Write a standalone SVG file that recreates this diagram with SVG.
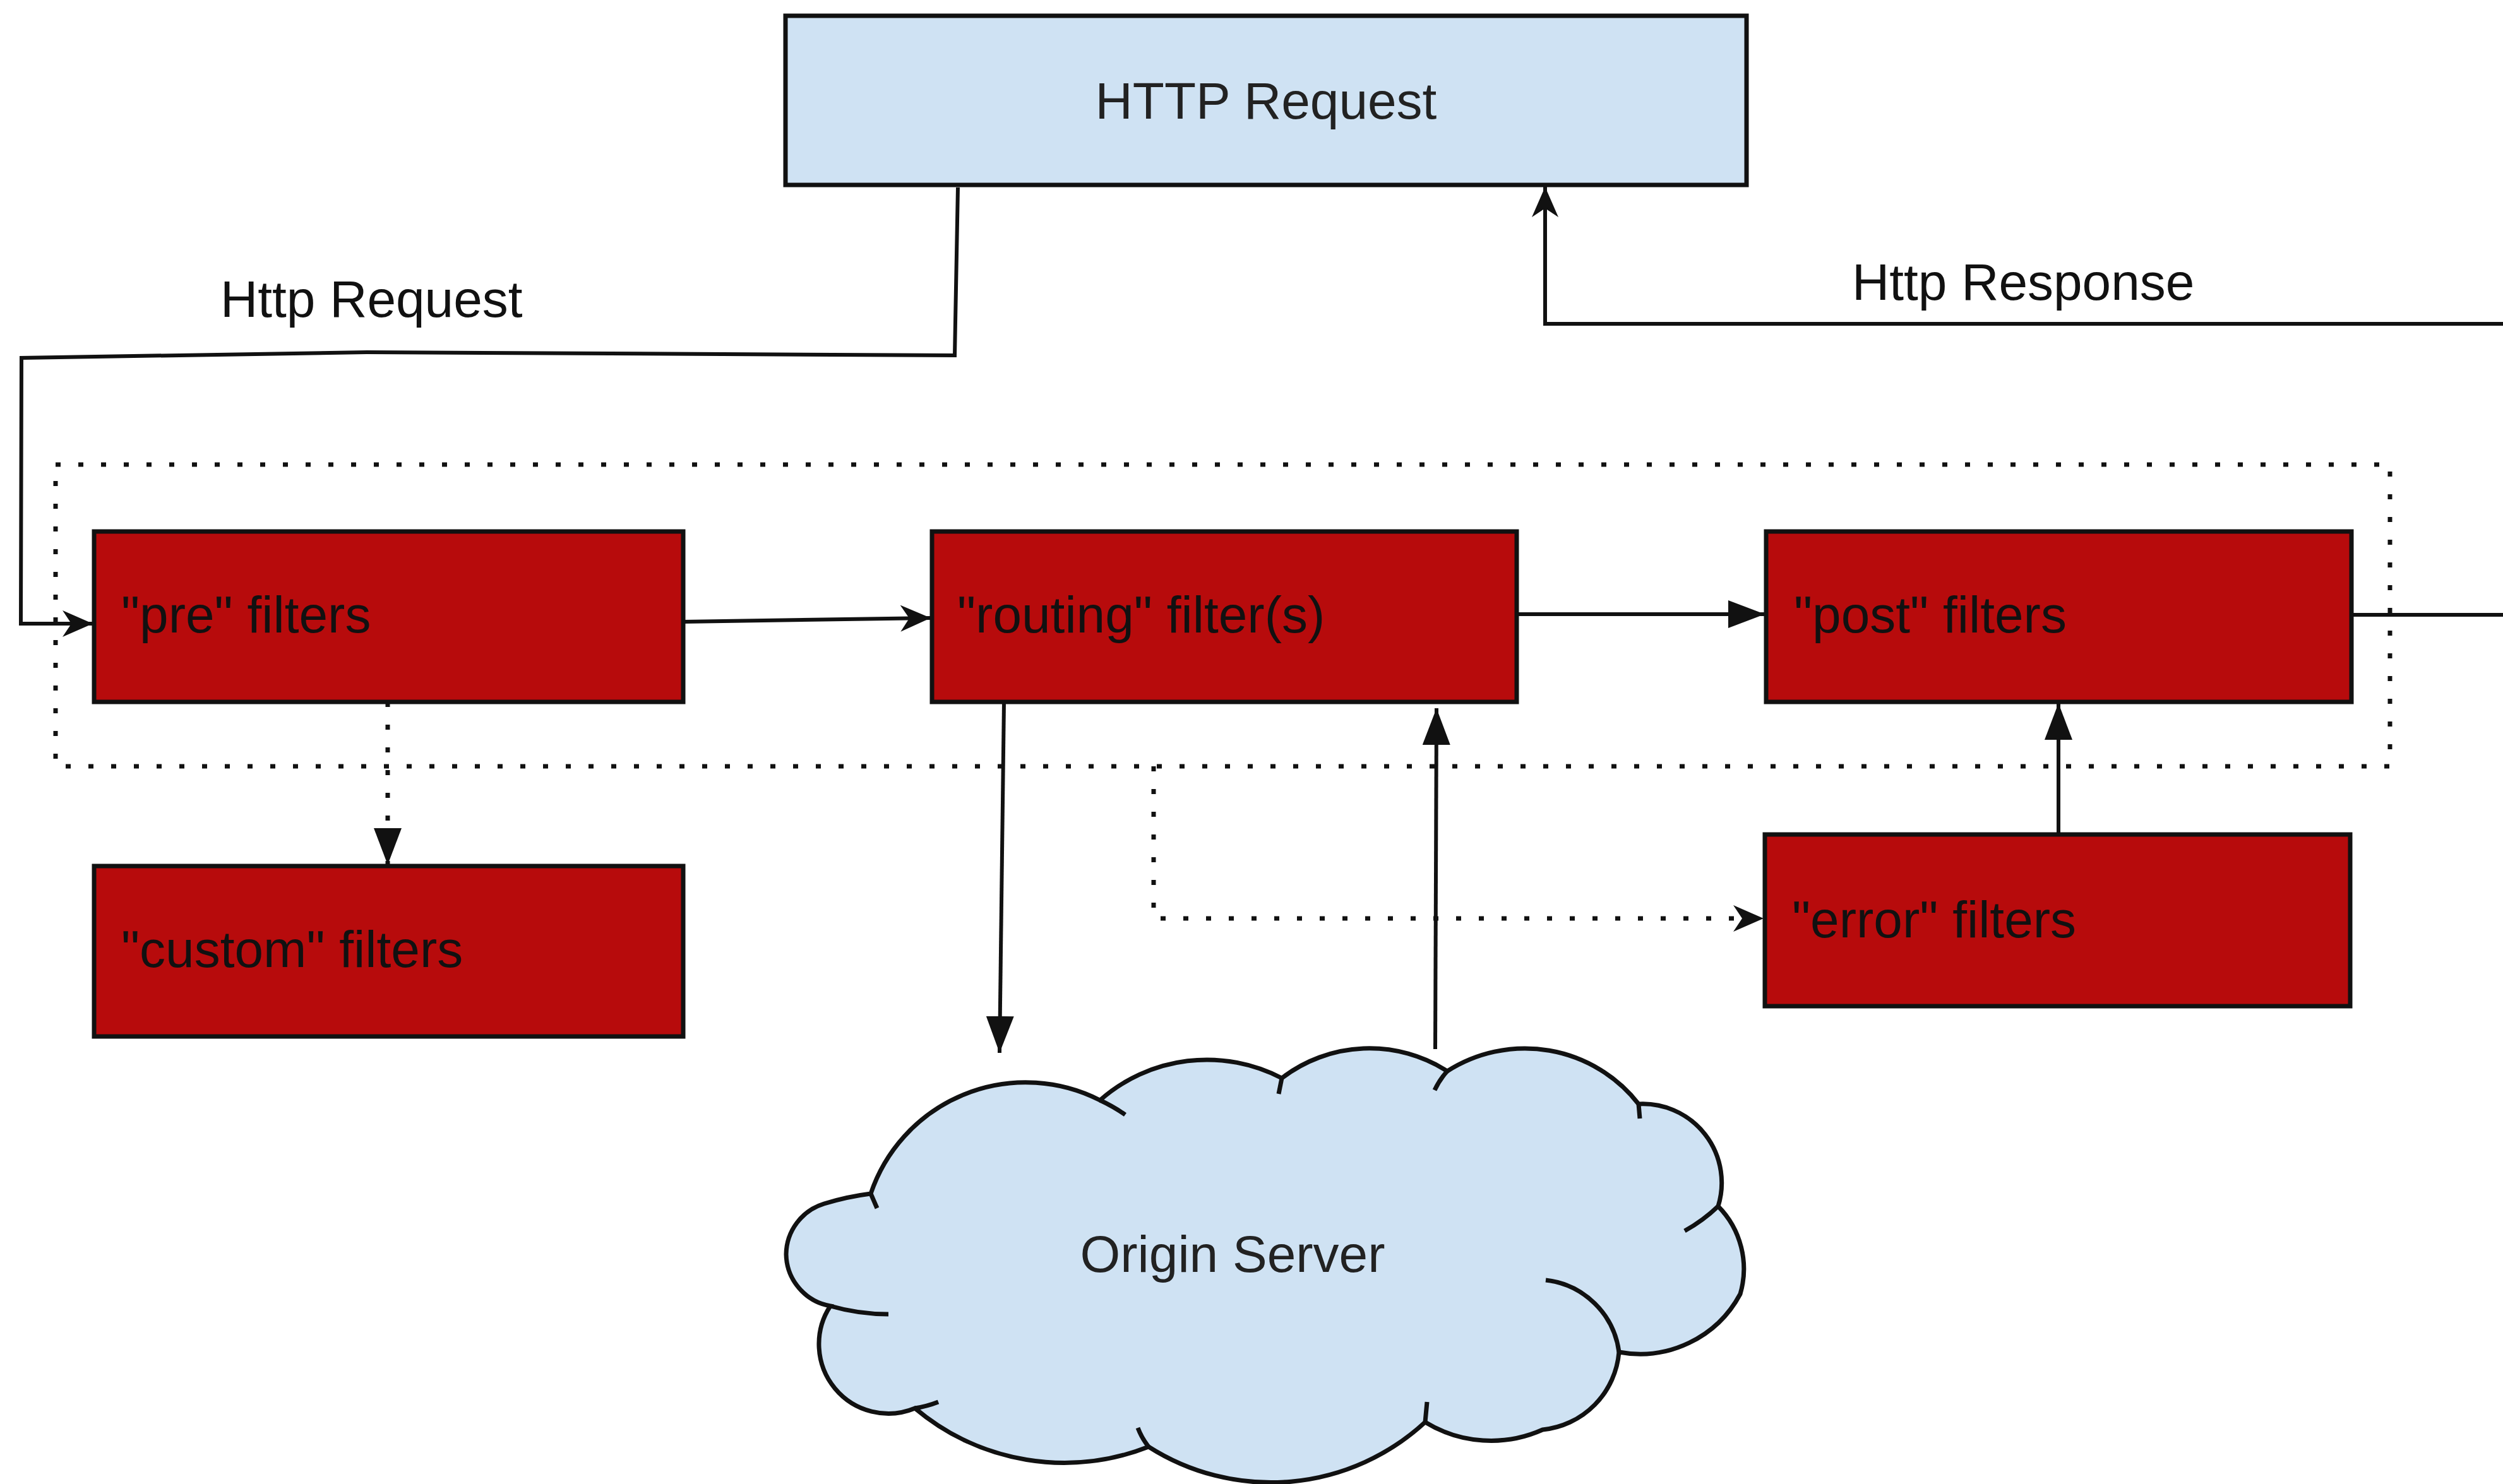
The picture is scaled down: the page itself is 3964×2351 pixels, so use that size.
<svg xmlns="http://www.w3.org/2000/svg" width="3964" height="2351" viewBox="0 0 3964 2351">
<defs>
<style>
.lbl{font-family:"Liberation Sans",Arial,sans-serif;font-size:82px;fill:#111}
.red{fill:#b70b0c;stroke:#111;stroke-width:7}
.blue{fill:#cfe2f3;stroke:#111;stroke-width:7}
.con{fill:none;stroke:#111;stroke-width:6}
.dot{fill:none;stroke:#111;stroke-width:7;stroke-dasharray:8 28}
.tick{fill:none;stroke:#111;stroke-width:7}
</style>
<marker id="tri" viewBox="0 0 58 44" markerWidth="58" markerHeight="44" refX="58" refY="22" orient="auto" markerUnits="userSpaceOnUse">
<path d="M0,0 L58,22 L0,44 z" fill="#111"/>
</marker>
<marker id="chev" viewBox="0 0 48 42" markerWidth="48" markerHeight="42" refX="48" refY="21" orient="auto" markerUnits="userSpaceOnUse">
<path d="M0,0 L48,21 L0,42 L14,21 z" fill="#111"/>
</marker>
</defs>
<rect width="3964" height="2351" fill="#fff"/>
<g id="container">
<rect x="88" y="736" width="3697" height="478" class="dot"/>
</g>
<g id="connectors">
<path class="con" d="M1517,297 L1512,563 L581,558 L34,567 L33,988 L147,988" marker-end="url(#chev)"/>
<path class="con" d="M1082,985 L1474,979" marker-end="url(#chev)"/>
<path class="con" d="M2402,973 L2795,973" marker-end="url(#tri)"/>
<path class="con" d="M3724,974 L3964,974"/>
<path class="con" d="M3964,513 L2447,513 L2447,296" marker-end="url(#chev)"/>
<path class="con" d="M1590,1112 L1583,1668" marker-end="url(#tri)"/>
<path class="con" d="M2273,1662 L2275,1122" marker-end="url(#tri)"/>
<path class="con" d="M3260,1322 L3260,1114" marker-end="url(#tri)"/>
<path class="dot" d="M614,1112 L614,1370" marker-end="url(#tri)"/>
<path class="dot" d="M1827,1214 L1827,1455 L2793,1455" marker-end="url(#chev)"/>
</g>
<g id="http-request">
<rect x="1244" y="25" width="1522" height="268" class="blue"/>
<text x="2005" y="188" class="lbl" text-anchor="middle" style="fill:#222">HTTP Request</text>
</g>
<g id="label-http-request"><text x="349" y="502" class="lbl">Http Request</text></g>
<g id="label-http-response"><text x="2933" y="475" class="lbl">Http Response</text></g>
<g id="pre">
<rect x="149" y="842" width="933" height="270" class="red"/>
<text x="192" y="1002" class="lbl">"pre" filters</text>
</g>
<g id="routing">
<rect x="1476" y="842" width="926" height="270" class="red"/>
<text x="1516" y="1002" class="lbl">"routing" filter(s)</text>
</g>
<g id="post">
<rect x="2797" y="842" width="927" height="270" class="red"/>
<text x="2841" y="1002" class="lbl">"post" filters</text>
</g>
<g id="custom">
<rect x="149" y="1372" width="933" height="270" class="red"/>
<text x="192" y="1532" class="lbl">"custom" filters</text>
</g>
<g id="error">
<rect x="2795" y="1322" width="927" height="272" class="red"/>
<text x="2838" y="1485" class="lbl">"error" filters</text>
</g>
<g id="origin-server">
<path class="blue" d="M1379,1891 A259,259 0 0 1 1742,1743 A256,256 0 0 1 2030,1708 A228,228 0 0 1 2292,1697 A228,228 0 0 1 2595,1749 A125,125 0 0 1 2721,1911 A141,141 0 0 1 2756,2050 A180,180 0 0 1 2564,2142 A135,135 0 0 1 2443,2265 A200,200 0 0 1 2257,2253 A360,360 0 0 1 1819,2292 A366,366 0 0 1 1449,2231 A110,110 0 0 1 1315,2069 A85,85 0 0 1 1245,1987 A85,85 0 0 1 1305,1907 A440,440 0 0 1 1379,1891 z"/>
<path class="tick" d="M1389,1914 L1379,1891"/>
<path class="tick" d="M1742,1743 A259,259 0 0 1 1782,1766"/>
<path class="tick" d="M2030,1708 L2025,1733"/>
<path class="tick" d="M2292,1697 Q2280,1710 2272,1727"/>
<path class="tick" d="M2595,1749 L2597,1772"/>
<path class="tick" d="M2721,1911 Q2697,1934 2668,1950"/>
<path class="tick" d="M2448,2028 A132,132 0 0 1 2564,2142"/>
<path class="tick" d="M2260,2221 L2257,2253"/>
<path class="tick" d="M1819,2292 Q1808,2278 1802,2262"/>
<path class="tick" d="M1486,2221 Q1468,2228 1449,2231"/>
<path class="tick" d="M1315,2069 Q1360,2082 1407,2082"/>
<text x="1952" y="2015" class="lbl" text-anchor="middle" style="fill:#222">Origin Server</text>
</g>
</svg>
